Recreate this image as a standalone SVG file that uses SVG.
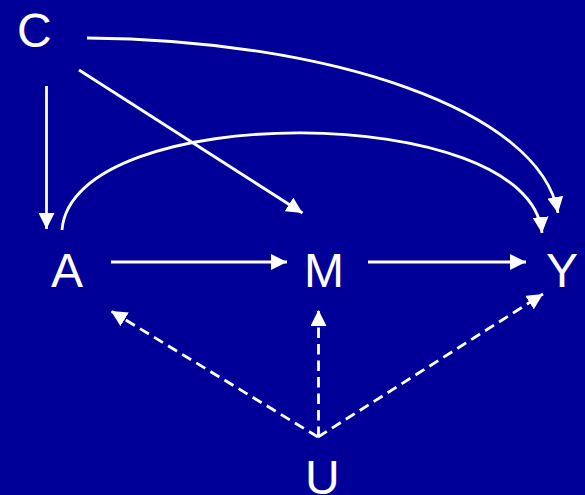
<svg xmlns="http://www.w3.org/2000/svg" width="585" height="495" viewBox="0 0 585 495">
<style>
.lbl{font-family:"Liberation Sans",Arial,sans-serif;font-size:48px;fill:#fff}
.e{fill:none;stroke:#fff;stroke-width:2.8}
.d{stroke-dasharray:10.5,6}
</style>
<defs>
<marker id="ah" viewBox="0 0 16 16" refX="16" refY="8" markerWidth="16" markerHeight="16" markerUnits="userSpaceOnUse" orient="auto">
<path d="M0,0 L16,8 L0,16 z" fill="#fff"/>
</marker>
</defs>
<rect width="585" height="495" fill="#000099"/>
<g id="connectors">
<path class="e" d="M46.5,86 L46.5,229" marker-end="url(#ah)"/>
<path class="e" d="M79,70 L302.5,213" marker-end="url(#ah)"/>
<path class="e" d="M111,262 L287,262" marker-end="url(#ah)"/>
<path class="e" d="M368,262 L526,262" marker-end="url(#ah)"/>
<path class="e" d="M87,38 C330,40 540,110 558,213" marker-end="url(#ah)"/>
<path class="e" d="M62,230 C72,100 530,100 542,233" marker-end="url(#ah)"/>
<path class="e d" d="M318,437 L111,311" marker-end="url(#ah)"/>
<path class="e d" d="M318.5,437 L318.5,310" marker-end="url(#ah)"/>
<path class="e d" d="M318,437 L543,294" marker-end="url(#ah)"/>
</g>
<g id="C"><text class="lbl" x="17" y="47">C</text></g>
<g id="A"><text class="lbl" x="51" y="287">A</text></g>
<g id="M"><text class="lbl" x="304" y="287">M</text></g>
<g id="Y"><text class="lbl" x="546" y="287">Y</text></g>
<g id="U"><text class="lbl" x="305" y="494">U</text></g>
</svg>
